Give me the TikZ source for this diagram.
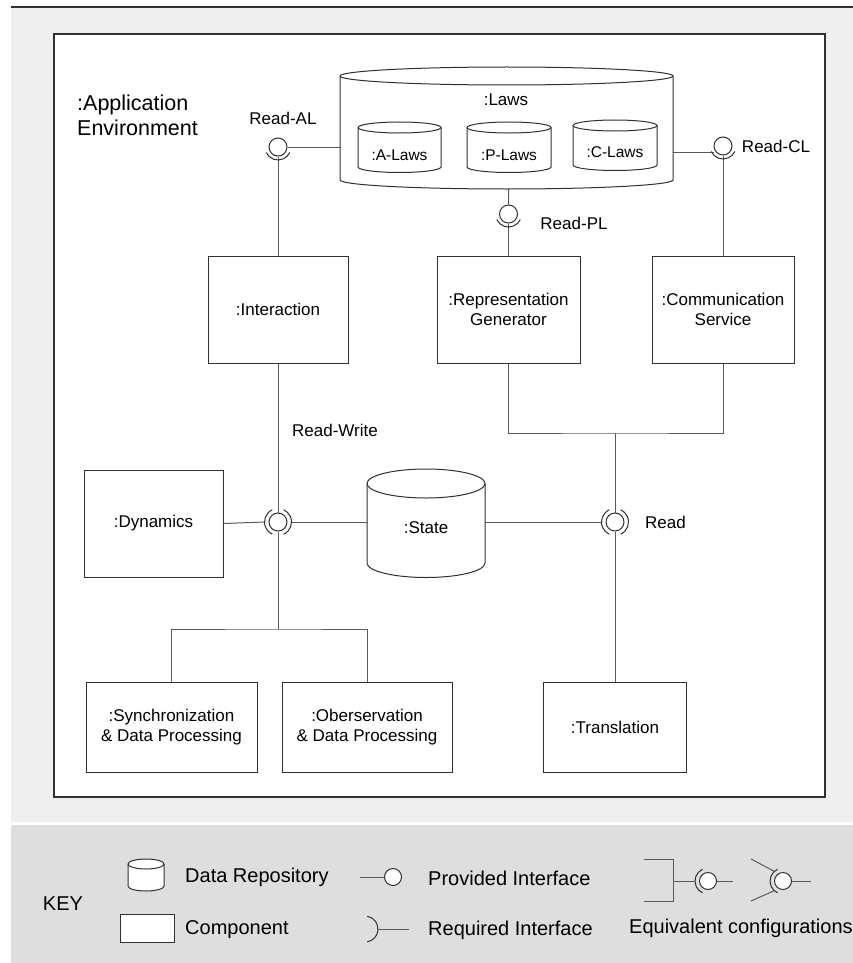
\documentclass[tikz,border=0pt]{standalone}
\usepackage{fontspec}
\setmainfont{Liberation Sans}
\usetikzlibrary{calc}

\definecolor{pagebg}{HTML}{EFEFEF}
\definecolor{keybg}{HTML}{DEDEDE}
\definecolor{edgec}{HTML}{303030}
\definecolor{wirec}{HTML}{5A5A5A}

\pgfdeclarelayer{backdrop}
\pgfdeclarelayer{wires}
\pgfsetlayers{backdrop,wires,main}

\tikzset{
  lbl/.style={inner sep=0pt, font=\fontsize{17}{20.5}\selectfont},
  smalllbl/.style={inner sep=0pt, font=\fontsize{15.5}{18}\selectfont},
  compbox/.style={draw=edgec, fill=white, line width=1pt, inner sep=0pt,
                  align=center, font=\fontsize{17}{20.5}\selectfont},
  wire/.style={draw=wirec, line width=1pt},
  ball/.style={circle, draw=edgec, fill=white, line width=1pt,
               minimum size=18pt, inner sep=0pt},
  ring/.style={circle, minimum size=27pt, inner sep=0pt},
  sock/.style={draw=edgec, line width=1pt},
  cylbody/.style={draw=edgec, fill=white, line width=1pt},
  keytext/.style={inner sep=0pt, anchor=west, font=\fontsize{20}{24}\selectfont},
}

% repository drum: centre x, half width, top y, bottom y, ellipse half height
\newcommand\drawrepo[5]{%
  \path[cylbody] ({#1-#2},#3) -- ({#1-#2},#4)
    arc[start angle=180,end angle=360,x radius=#2pt,y radius=#5pt]
    -- ({#1+#2},#3)
    arc[start angle=0,end angle=180,x radius=#2pt,y radius=#5pt] -- cycle;
  \draw[edgec, line width=1pt] ({#1-#2},#3)
    arc[start angle=180,end angle=360,x radius=#2pt,y radius=#5pt];
}
% socket half-ring below a ball
\newcommand\lowersocket[1]{%
  \draw[sock] (#1.center) ++(205:13pt) arc[start angle=205,end angle=335,radius=13pt];
}
% socket split into left and right halves
\newcommand\sidesockets[1]{%
  \draw[sock] (#1.center) ++(115:13.5pt) arc[start angle=115,end angle=245,radius=13.5pt];
  \draw[sock] (#1.center) ++(-65:13.5pt) arc[start angle=-65,end angle=65,radius=13.5pt];
}

\begin{document}
\begin{tikzpicture}[x=1pt,y=-1pt]
\useasboundingbox (0,0) rectangle (853,963);

\begin{pgfonlayer}{backdrop}
  \fill[pagebg] (11,7) rectangle (853,822);
  \fill[keybg] (11,825) rectangle (853,963);
  \draw[edgec, line width=1.3pt] (11,7) -- (853,7);
  \draw[edgec, line width=1.3pt, fill=white] (54,34) rectangle (825,797);
\end{pgfonlayer}

% environment title
\node[lbl, align=left, anchor=north west, font=\fontsize{21.5}{25}\selectfont]
  (env) at (77,95) {:Application\\Environment};

% laws repository with its three parts
\drawrepo{506.5}{166.5}{76}{180}{9}
\node[lbl] (laws) at (506,100) {:Laws};
\drawrepo{399.5}{41.5}{127.5}{167}{5.5}
\drawrepo{509}{42}{127.5}{167}{5.5}
\drawrepo{615}{42}{125.5}{165}{5.5}
\node[smalllbl, minimum width=83pt, minimum height=35pt] (alaws) at (399.5,155) {:A-Laws};
\node[smalllbl, minimum width=84pt, minimum height=35pt] (plaws) at (509,155) {:P-Laws};
\node[smalllbl, minimum width=84pt, minimum height=35pt] (claws) at (615,152) {:C-Laws};

% components
\node[compbox, minimum width=140pt, minimum height=107pt] (inter) at (278,309.5) {:Interaction};
\node[compbox, minimum width=143pt, minimum height=107pt] (repgen) at (508.5,309.5) {:Representation\\Generator};
\node[compbox, minimum width=142pt, minimum height=107pt] (comm) at (723,309.5) {:Communication\\Service};
\node[compbox, minimum width=139pt, minimum height=107pt] (dyn) at (153.5,523.5) {:Dynamics};
\node[compbox, minimum width=171pt, minimum height=90pt] (sync) at (171.5,727) {:Synchronization\\\& Data Processing};
\node[compbox, minimum width=170pt, minimum height=90pt] (obs) at (367,727) {:Oberservation\\\& Data Processing};
\node[compbox, minimum width=143pt, minimum height=90pt] (trans) at (615,727) {:Translation};

% state repository
\drawrepo{426}{59}{483.5}{563}{14.5}
\node[lbl, minimum width=118pt, minimum height=60pt] (state) at (426,528) {:State};

% interfaces
\node[ball] (sAL) at (278,147) {};
\node[ball] (sPL) at (508.5,214) {};
\node[ball] (sCL) at (723,146) {};
\node[ball] (sRW) at (278,522) {};
\node[ring] (rRW) at (278,522) {};
\node[ball] (sRd) at (615,522) {};
\node[ring] (rRd) at (615,522) {};
\lowersocket{sAL}
\lowersocket{sPL}
\lowersocket{sCL}
\sidesockets{sRW}
\sidesockets{sRd}

\node[lbl] (tAL) at (283,118) {Read-AL};
\node[lbl] (tPL) at (574,223) {Read-PL};
\node[lbl] (tCL) at (776,146) {Read-CL};
\node[lbl] (tRW) at (335,430) {Read-Write};
\node[lbl] (tRd) at (665.5,522) {Read};

\coordinate (forkA) at (615,433);
\coordinate (forkB) at (278,629);

\begin{pgfonlayer}{wires}
  \draw[wire] (sAL.east) -- (sAL.east -| alaws.west);
  \draw[wire] (sAL.south) -- (inter.north);
  \draw[wire] (plaws.south) -- (sPL.north);
  \draw[wire] (sPL.south) -- (repgen.north);
  \draw[wire] (claws.east) -- (claws.east -| sCL.west);
  \draw[wire] (sCL.south) -- (comm.north);
  \draw[wire] (repgen.south) |- (forkA) -| (comm.south);
  \draw[wire] (forkA) -- (sRd.north);
  \draw[wire] (inter.south) -- (sRW.north);
  \draw[wire] (dyn.east) -- (rRW.west);
  \draw[wire] (rRW.east) -- (rRW.east -| state.west);
  \draw[wire] (state.east |- rRd.west) -- (rRd.west);
  \draw[wire] (sRW.south) -- (forkB);
  \draw[wire] (sync.north) |- (forkB) -| (obs.north);
  \draw[wire] (sRd.south) -- (trans.north);
\end{pgfonlayer}

% key
\node[inner sep=0pt, font=\fontsize{20}{24}\selectfont] (key) at (63,904) {KEY};
\drawrepo{146}{18}{864}{886}{5}
\node[keytext] (kDR) at (185,877) {Data Repository};
\node[draw=edgec, fill=white, line width=1pt, minimum width=54pt, minimum height=28pt, inner sep=0pt] (kcomp) at (147,928) {};
\node[keytext] (kC) at (185,930) {Component};

\node[ball, minimum size=17pt] (kprov) at (393,877) {};
\coordinate (kprovL) at (360,877);
\draw[wire] (kprovL) -- (kprov.west);
\node[keytext] (kPI) at (428,878) {Provided Interface};

\coordinate (kreq) at (365,929);
\coordinate (kreqR) at (409,929);
\draw[sock] (kreq) ++(80:13pt) arc[start angle=80,end angle=-80,radius=13pt];
\draw[wire] ([xshift=13pt]kreq) -- (kreqR);
\node[keytext] (kRI) at (428,930) {Required Interface};

% first equivalent form: bracketed pair joined into one socket
\node[ball, minimum size=17pt] (keq1) at (708,881) {};
\node[ring, minimum size=26pt] (kring1) at (708,881) {};
\draw[sock] (keq1.center) ++(115:13pt) arc[start angle=115,end angle=245,radius=13pt];
\coordinate (kb1) at (644,859);
\coordinate (kb2) at (644,901);
\coordinate (kbm) at (673,881);
\coordinate (keq1R) at (733,881);
\draw[wire] (kb1) -| (kbm) |- (kb2);
\draw[wire] (kbm) -- (kring1.west);
\draw[wire] (keq1.east) -- (keq1R);

% second equivalent form: two lines meeting the socket directly
\node[ball, minimum size=17pt] (keq2) at (783,881) {};
\draw[sock] (keq2.center) ++(115:13pt) arc[start angle=115,end angle=245,radius=13pt];
\coordinate (kc1) at (751,859);
\coordinate (kc2) at (751,901);
\coordinate (keq2R) at (811,881);
\draw[wire] (kc1) -- ($(keq2.center)+(132:13pt)$);
\draw[wire] (kc2) -- ($(keq2.center)+(228:13pt)$);
\draw[wire] (keq2.east) -- (keq2R);
\node[keytext] (kEq) at (629,928) {Equivalent configurations};

\end{tikzpicture}
\end{document}
